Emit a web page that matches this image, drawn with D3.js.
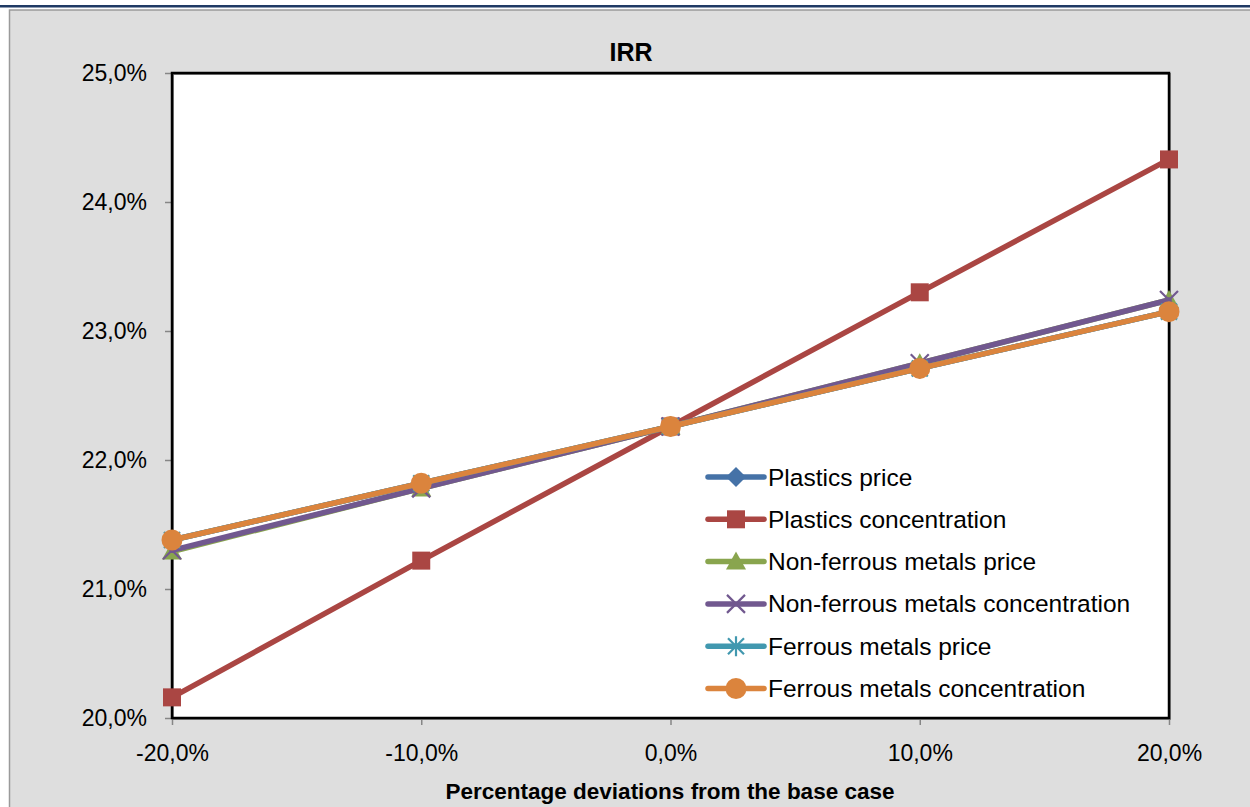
<!DOCTYPE html>
<html>
<head>
<meta charset="utf-8">
<script src="https://cdn.jsdelivr.net/npm/d3@7"></script>
<style>
  html, body { margin: 0; padding: 0; background: #ffffff; }
  svg { display: block; font-family: "Liberation Sans", Arial, sans-serif; }
</style>
</head>
<body>
<svg id="chart" width="1250" height="807"></svg>
<script>
// Deviation steps on the x axis
const deviations = [-20, -10, 0, 10, 20];
const yTicks = [20, 21, 22, 23, 24, 25];

// IRR (%) for each sensitivity series
const plasticsPrice = [21.38, 21.82, 22.26, 22.71, 23.15];
const plasticsConcentration = [20.16, 21.22, 22.26, 23.30, 24.33];
const nonFerrousPrice = [21.29, 21.78, 22.26, 22.75, 23.24];
const nonFerrousConcentration = [21.30, 21.78, 22.26, 22.75, 23.24];
const ferrousPrice = [21.38, 21.82, 22.26, 22.71, 23.15];
const ferrousConcentration = [21.38, 21.82, 22.26, 22.71, 23.15];

const seriesNames = [
  "Plastics price",
  "Plastics concentration",
  "Non-ferrous metals price",
  "Non-ferrous metals concentration",
  "Ferrous metals price",
  "Ferrous metals concentration"
];
const seriesValues = [plasticsPrice, plasticsConcentration, nonFerrousPrice,
  nonFerrousConcentration, ferrousPrice, ferrousConcentration];
const colors = ["#4572a7", "#aa4643", "#89a54e", "#71588f", "#4198af", "#db843d"];
const markers = ["diamond", "square", "triangle", "x", "star", "circle"];

const svg = d3.select("#chart");

// Page frame: dark rule on top, grey chart area below
svg.append("rect").attr("x", 0).attr("y", 5).attr("width", 1250).attr("height", 2.5).attr("fill", "#1f3a64");
svg.append("rect").attr("x", 9.5).attr("y", 10).attr("width", 1250).attr("height", 810)
  .attr("fill", "#dedede").attr("stroke", "#9a9a9a").attr("stroke-width", 1.5);

const plot = { left: 172, top: 73, right: 1169, bottom: 718 };

const x = d3.scaleLinear().domain([-20, 20]).range([plot.left, plot.right]);
const y = d3.scaleLinear().domain([20, 25]).range([plot.bottom, plot.top]);

const fmt = v => (v < 0 ? "-" : "") + Math.abs(v).toFixed(1).replace(".", ",") + "%";

// Plot background
svg.append("rect").attr("x", plot.left).attr("y", plot.top)
  .attr("width", plot.right - plot.left).attr("height", plot.bottom - plot.top)
  .attr("fill", "#ffffff");

// Axes
const yAxis = svg.append("g").attr("transform", `translate(${plot.left},0)`)
  .call(d3.axisLeft(y).tickValues(yTicks).tickFormat(fmt).tickSize(7).tickPadding(18));
const xAxis = svg.append("g").attr("transform", `translate(0,${plot.bottom})`)
  .call(d3.axisBottom(x).tickValues(deviations).tickFormat(fmt).tickSize(7).tickPadding(15));
[yAxis, xAxis].forEach(g => {
  g.select(".domain").remove();
  g.selectAll(".tick line").attr("stroke", "#868686").attr("stroke-width", 1.5);
  g.selectAll(".tick text").attr("fill", "#000").style("font-size", "23px");
});
xAxis.selectAll(".tick text").attr("dy", "0.9em");

// Plot border
svg.append("rect").attr("x", plot.left + 1).attr("y", plot.top + 1)
  .attr("width", plot.right - plot.left).attr("height", plot.bottom - plot.top)
  .attr("fill", "none").attr("stroke", "#8a8a8a").attr("stroke-width", 2);
svg.append("rect").attr("x", plot.left).attr("y", plot.top)
  .attr("width", plot.right - plot.left).attr("height", plot.bottom - plot.top)
  .attr("fill", "none").attr("stroke", "#000").attr("stroke-width", 2.5);

// Marker drawing
function drawMarker(g, type, color) {
  switch (type) {
    case "diamond":
      g.append("path").attr("d", "M0,-10L10,0L0,10L-10,0Z").attr("fill", color);
      break;
    case "square":
      g.append("rect").attr("x", -9).attr("y", -9).attr("width", 18).attr("height", 18).attr("fill", color);
      break;
    case "triangle":
      g.append("path").attr("d", "M0,-10L10,8L-10,8Z").attr("fill", color);
      break;
    case "x":
      g.append("path").attr("d", "M-9,-9L9,9M-9,9L9,-9").attr("stroke", color).attr("stroke-width", 2.2).attr("fill", "none");
      break;
    case "star":
      g.append("path").attr("d", "M-8,-8L8,8M-8,8L8,-8M0,-10L0,10").attr("stroke", color).attr("stroke-width", 2.2).attr("fill", "none");
      break;
    case "circle":
      g.append("circle").attr("r", 10.5).attr("fill", color);
      break;
  }
}

const line = d3.line().x((d, i) => x(deviations[i])).y(d => y(d));

seriesValues.forEach((vals, s) => {
  const g = svg.append("g");
  g.append("path").datum(vals).attr("d", line)
    .attr("fill", "none").attr("stroke", colors[s]).attr("stroke-width", 5.5)
    .attr("stroke-linejoin", "round").attr("stroke-linecap", "round");
  vals.forEach((v, i) => {
    const m = g.append("g").attr("transform", `translate(${x(deviations[i])},${y(v)})`);
    drawMarker(m, markers[s], colors[s]);
  });
});

// Title
svg.append("text").attr("x", 631).attr("y", 61).attr("text-anchor", "middle")
  .style("font-size", "25px").style("font-weight", "bold").text("IRR");

// X axis title
svg.append("text").attr("x", 670).attr("y", 799).attr("text-anchor", "middle")
  .style("font-size", "22.5px").style("font-weight", "bold")
  .text("Percentage deviations  from the base  case");

// Legend
const legend = svg.append("g").attr("transform", "translate(706,477)");
seriesNames.forEach((name, s) => {
  const row = legend.append("g").attr("transform", `translate(0,${s * 42.3})`);
  row.append("line").attr("x1", 2).attr("x2", 58).attr("y1", 0).attr("y2", 0)
    .attr("stroke", colors[s]).attr("stroke-width", 5.5).attr("stroke-linecap", "round");
  const m = row.append("g").attr("transform", "translate(30,0)");
  drawMarker(m, markers[s], colors[s]);
  row.append("text").attr("x", 62).attr("y", 0).attr("dy", "0.35em")
    .style("font-size", "24.5px").text(name);
});
</script>
</body>
</html>
